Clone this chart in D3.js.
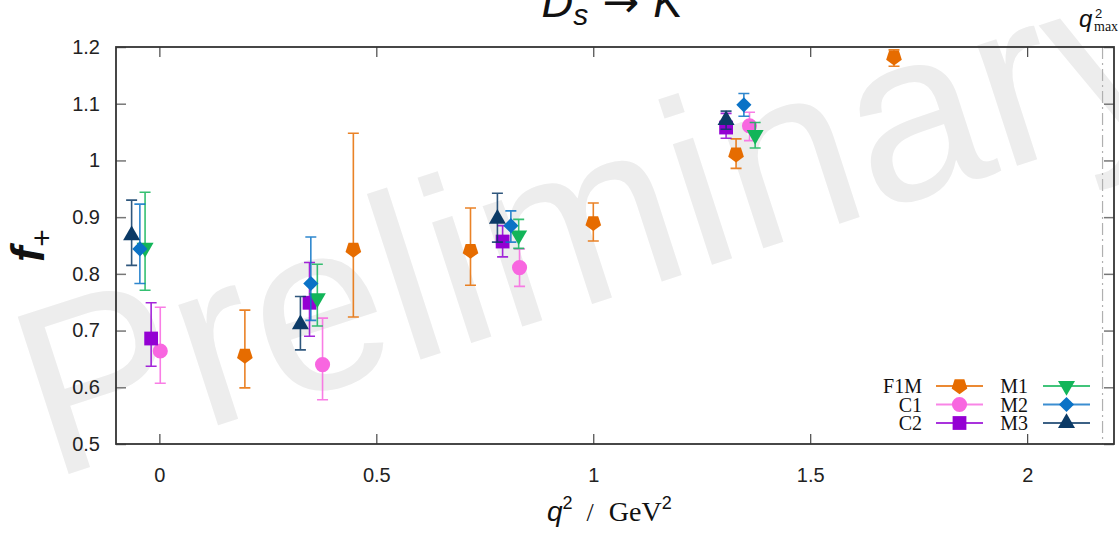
<!DOCTYPE html>
<html>
<head>
<meta charset="utf-8">
<script src="https://cdn.jsdelivr.net/npm/d3@7"></script>
<style>
  body { margin: 0; background: #fff; }
  svg { display: block; }
</style>
</head>
<body>
<svg width="1119" height="534"></svg>
<script>
// valori (q^2 in GeV^2, f+ con banda di errore)
const seriesNames = ["F1M", "C1", "C2", "M1", "M2", "M3"];

const f1mQ2 = [0.197, 0.447, 0.717, 1.0, 1.329, 1.693];
const f1mF  = [0.656, 0.843, 0.841, 0.890, 1.011, 1.182];
const f1mLo = [0.599, 0.724, 0.780, 0.858, 0.986, 1.166];
const f1mHi = [0.736, 1.048, 0.916, 0.925, 1.038, 1.195];

const c1Q2 = [0.002, 0.376, 0.830, 1.360];
const c1F  = [0.664, 0.640, 0.811, 1.061];
const c1Lo = [0.607, 0.578, 0.778, 1.035];
const c1Hi = [0.741, 0.722, 0.844, 1.085];

const c2Q2 = [-0.019, 0.346, 0.791, 1.306];
const c2F  = [0.686, 0.749, 0.857, 1.058];
const c2Lo = [0.637, 0.690, 0.830, 1.039];
const c2Hi = [0.749, 0.820, 0.885, 1.083];

const m1Q2 = [-0.033, 0.364, 0.828, 1.373];
const m1F  = [0.846, 0.757, 0.868, 1.045];
const m1Lo = [0.771, 0.708, 0.845, 1.022];
const m1Hi = [0.944, 0.817, 0.896, 1.067];

const m2Q2 = [-0.045, 0.349, 0.810, 1.347];
const m2F  = [0.844, 0.783, 0.885, 1.098];
const m2Lo = [0.783, 0.718, 0.856, 1.078];
const m2Hi = [0.923, 0.865, 0.911, 1.118];

const m3Q2 = [-0.064, 0.325, 0.779, 1.306];
const m3F  = [0.868, 0.711, 0.897, 1.071];
const m3Lo = [0.815, 0.666, 0.856, 1.055];
const m3Hi = [0.930, 0.760, 0.942, 1.087];

const xTicks = [0, 0.5, 1, 1.5, 2];
const yTicks = [0.5, 0.6, 0.7, 0.8, 0.9, 1, 1.1, 1.2];
const q2max = 2.1736;

const colors = ["#e66c00", "#f866e0", "#9400d3", "#12b559", "#0a72c6", "#0b3a66"];

const svg = d3.select('svg');
const plot = {left: 116, top: 47, right: 1114, bottom: 444};

const x = d3.scaleLinear().domain([-0.1, 2.2]).range([plot.left, plot.right]);
const y = d3.scaleLinear().domain([0.5, 1.2]).range([plot.bottom, plot.top]);

// scritta di sfondo
svg.append('text')
  .attr('transform', 'translate(50,480) rotate(-18)')
  .attr('font-family', 'Liberation Sans, Arial, sans-serif')
  .attr('font-size', 240)
  .attr('fill', '#ededed')
  .text('Preliminary');

// simboli
const pentagon = {
  draw(ctx, size) {
    const r = Math.sqrt(size);
    for (let k = 0; k < 5; k++) {
      const a = Math.PI / 2 + k * 2 * Math.PI / 5;
      const px = r * Math.cos(a), py = r * Math.sin(a);
      if (k === 0) ctx.moveTo(px, py); else ctx.lineTo(px, py);
    }
    ctx.closePath();
  }
};
const symbols = [
  {type: pentagon, size: 68, rot: 0},
  {type: d3.symbolCircle, size: 180, rot: 0},
  {type: d3.symbolSquare, size: 190, rot: 0},
  {type: d3.symbolTriangle, size: 125, rot: 180},
  {type: d3.symbolSquare, size: 115, rot: 45},
  {type: d3.symbolTriangle, size: 125, rot: 0}
];

const series = [
  [f1mQ2, f1mF, f1mLo, f1mHi],
  [c1Q2, c1F, c1Lo, c1Hi],
  [c2Q2, c2F, c2Lo, c2Hi],
  [m1Q2, m1F, m1Lo, m1Hi],
  [m2Q2, m2F, m2Lo, m2Hi],
  [m3Q2, m3F, m3Lo, m3Hi]
];

// assi
const tickFont = g => g.selectAll('text')
  .attr('font-family', 'Liberation Sans, Arial, sans-serif')
  .attr('font-size', 20)
  .attr('fill', '#222');

svg.append('g')
  .attr('transform', `translate(0,${plot.bottom})`)
  .call(d3.axisBottom(x).tickValues(xTicks).tickFormat(d3.format('')).tickSizeInner(-10).tickSizeOuter(0).tickPadding(24))
  .call(g => g.select('.domain').remove())
  .call(g => g.selectAll('line').attr('stroke', '#222'))
  .call(tickFont);

svg.append('g')
  .attr('transform', `translate(0,${plot.top})`)
  .call(d3.axisTop(x).tickValues(xTicks).tickFormat('').tickSizeInner(-10).tickSizeOuter(0))
  .call(g => g.select('.domain').remove())
  .call(g => g.selectAll('line').attr('stroke', '#222'));

svg.append('g')
  .attr('transform', `translate(${plot.left},0)`)
  .call(d3.axisLeft(y).tickValues(yTicks).tickFormat(d3.format('')).tickSizeInner(-10).tickSizeOuter(0).tickPadding(16))
  .call(g => g.select('.domain').remove())
  .call(g => g.selectAll('line').attr('stroke', '#777').attr('stroke-width', 1.5))
  .call(tickFont);

svg.append('g')
  .attr('transform', `translate(${plot.right},0)`)
  .call(d3.axisRight(y).tickValues(yTicks).tickFormat('').tickSizeInner(-10).tickSizeOuter(0))
  .call(g => g.select('.domain').remove())
  .call(g => g.selectAll('line').attr('stroke', '#777').attr('stroke-width', 1.5));

// linea q2 max
svg.append('line')
  .attr('x1', x(q2max)).attr('x2', x(q2max))
  .attr('y1', plot.top).attr('y2', plot.bottom)
  .attr('stroke', '#b0b0b0')
  .attr('stroke-width', 1.2)
  .attr('stroke-dasharray', '12,4,2,4');

// cornice
svg.append('rect')
  .attr('x', plot.left).attr('y', plot.top)
  .attr('width', plot.right - plot.left).attr('height', plot.bottom - plot.top)
  .attr('fill', 'none')
  .attr('stroke', '#333')
  .attr('stroke-width', 1.8);

// barre di errore e punti
series.forEach((s, i) => {
  const g = svg.append('g');
  const idx = d3.range(s[0].length);
  const cap = 5.5;
  g.selectAll('path.err')
    .data(idx)
    .enter().append('path')
    .attr('class', 'err')
    .attr('d', j => {
      const cx = x(s[0][j]), lo = y(s[2][j]), hi = y(s[3][j]);
      return `M${cx - cap},${hi}H${cx + cap}M${cx},${hi}V${lo}M${cx - cap},${lo}H${cx + cap}`;
    })
    .attr('fill', 'none')
    .attr('stroke', colors[i])
    .attr('stroke-opacity', 0.85)
    .attr('stroke-width', 1.6);
  g.selectAll('path.pt')
    .data(idx)
    .enter().append('path')
    .attr('class', 'pt')
    .attr('d', d3.symbol().type(symbols[i].type).size(symbols[i].size))
    .attr('transform', j => `translate(${x(s[0][j])},${y(s[1][j])}) rotate(${symbols[i].rot})`)
    .attr('fill', colors[i]);
});

// legenda
const legend = svg.append('g');
seriesNames.forEach((name, i) => {
  const col = Math.floor(i / 3), row = i % 3;
  const tx = col === 0 ? 922 : 1028;
  const lx = col === 0 ? 936 : 1043;
  const cy = 386 + row * 18.5;
  legend.append('text')
    .attr('x', tx).attr('y', cy + 7)
    .attr('text-anchor', 'end')
    .attr('font-family', 'Liberation Serif, Times New Roman, serif')
    .attr('font-size', 20)
    .attr('fill', '#111')
    .text(name);
  legend.append('line')
    .attr('x1', lx).attr('x2', lx + 47)
    .attr('y1', cy).attr('y2', cy)
    .attr('stroke', colors[i])
    .attr('stroke-opacity', 0.8)
    .attr('stroke-width', 2);
  legend.append('path')
    .attr('d', d3.symbol().type(symbols[i].type).size(symbols[i].size))
    .attr('transform', `translate(${lx + 23.5},${cy}) rotate(${symbols[i].rot})`)
    .attr('fill', colors[i]);
});

// titolo
const title = svg.append('text')
  .attr('x', 612).attr('y', 17)
  .attr('text-anchor', 'middle')
  .attr('font-family', 'Liberation Sans, Arial, sans-serif')
  .attr('font-size', 44)
  .attr('fill', '#111');
title.append('tspan').attr('font-style', 'italic').text('D');
title.append('tspan').attr('font-style', 'italic').attr('font-size', 30).attr('dy', 8).text('s');
title.append('tspan').attr('dy', -8).attr('font-family', 'DejaVu Sans, sans-serif').text(' \u2192 ');
title.append('tspan').attr('font-style', 'italic').text('K');

// q2 max
svg.append('text')
  .attr('x', 1079).attr('y', 27)
  .attr('font-family', 'Liberation Sans, Arial, sans-serif')
  .attr('font-style', 'italic')
  .attr('font-size', 24)
  .attr('fill', '#111')
  .text('q');
svg.append('text')
  .attr('x', 1095).attr('y', 18)
  .attr('font-family', 'Liberation Sans, Arial, sans-serif')
  .attr('font-size', 13)
  .attr('fill', '#111')
  .text('2');
svg.append('text')
  .attr('x', 1094).attr('y', 31)
  .attr('font-family', 'Liberation Serif, serif')
  .attr('font-size', 14)
  .attr('fill', '#111')
  .text('max');

// etichetta asse y
const yl = svg.append('text')
  .attr('transform', 'translate(44,262) rotate(-90)')
  .attr('font-family', 'Liberation Sans, Arial, sans-serif')
  .attr('font-size', 46)
  .attr('fill', '#111');
yl.append('tspan').attr('font-style', 'italic').attr('font-weight', 'bold').text('f');
yl.append('tspan').attr('font-size', 30).attr('dy', 8).text('+');

// etichetta asse x
const xl = svg.append('text')
  .attr('x', 547).attr('y', 521)
  .attr('font-family', 'Liberation Sans, Arial, sans-serif')
  .attr('font-size', 28)
  .attr('fill', '#111');
xl.append('tspan').attr('font-style', 'italic').text('q');
xl.append('tspan').attr('font-size', 18).attr('dy', -12).text('2');
xl.append('tspan').attr('font-family', 'Liberation Serif, serif').attr('font-size', 26).attr('dy', 12).attr('dx', 14).text('/');
xl.append('tspan').attr('font-family', 'Liberation Serif, serif').attr('font-size', 28).attr('dx', 15).text('GeV');
xl.append('tspan').attr('font-size', 18).attr('dy', -12).text('2');
</script>
</body>
</html>
